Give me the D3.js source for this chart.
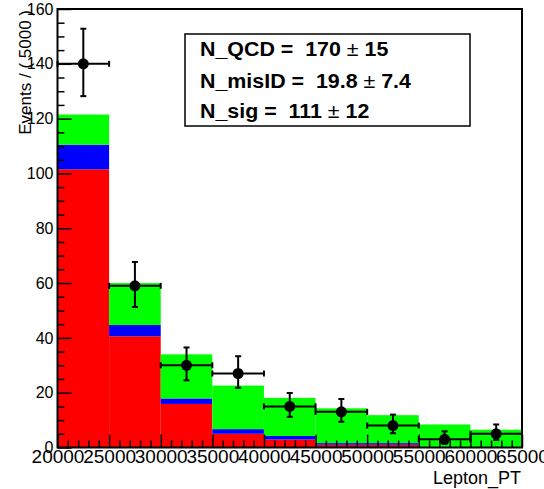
<!DOCTYPE html>
<html>
<head>
<meta charset="utf-8">
<script src="https://cdn.jsdelivr.net/npm/d3@7"></script>
<style>
  html, body { margin: 0; padding: 0; background: #fff; }
  svg { display: block; }
  text { font-family: "Liberation Sans", Arial, Helvetica, sans-serif; fill: #000; }
  .fit { white-space: pre; }
</style>
</head>
<body>
<svg id="chart" width="544" height="489"></svg>
<script>
// Bin lower edges of the Lepton_PT histogram (bin width 5000)
const binEdges = [20000, 25000, 30000, 35000, 40000, 45000, 50000, 55000, 60000, 65000];
// Stacked fit components per bin (bottom to top)
const qcd   = [101.5, 40.6, 15.9, 5.0, 2.9, 1.0, 1.0, 0.0, 0.0];
const misid = [9.0, 4.1, 2.0, 1.7, 1.3, 0.6, 0.6, 0.0, 0.0];
const sig   = [11.0, 15.3, 16.1, 15.9, 13.9, 12.7, 10.2, 8.4, 6.5];
// Observed events with asymmetric Poisson errors
const dataCounts = [140, 59, 30, 27, 15, 13, 8, 3, 5];
const errLow  = [11.8, 7.7, 5.5, 5.2, 3.8, 3.6, 2.8, 1.6, 2.2];
const errHigh = [12.8, 8.7, 6.5, 6.3, 4.9, 4.7, 4.0, 2.9, 3.4];
// Axis ticks
const yMajorTicks = [0, 20, 40, 60, 80, 100, 120, 140, 160];
const xMajorTicks = [20000, 25000, 30000, 35000, 40000, 45000, 50000, 55000, 60000, 65000];
// Fit results box
const fitNames  = ["N_QCD", "N_misID", "N_sig"];
const fitValues = ["170", "19.8", "111"];
const fitErrors = ["15", "7.4", "12"];

const svg = d3.select("#chart");
const x = d3.scaleLinear().domain([20000, 65000]).range([57.5, 522]);
const y = d3.scaleLinear().domain([0, 160]).range([447.5, 9]);

// Stacked histogram
const comps = [
  { vals: qcd, color: "#ff0000" },
  { vals: misid, color: "#0000ff" },
  { vals: sig, color: "#00ff00" }
];
const bins = d3.range(binEdges.length - 1);
const base = bins.map(() => 0);
const gHist = svg.append("g");
comps.forEach(c => {
  bins.forEach(i => {
    const lo = base[i], hi = base[i] + c.vals[i];
    base[i] = hi;
    if (hi - lo <= 0) return;
    gHist.append("rect")
      .attr("x", x(binEdges[i]))
      .attr("width", x(binEdges[i + 1]) - x(binEdges[i]))
      .attr("y", y(hi))
      .attr("height", y(lo) - y(hi))
      .attr("fill", c.color);
  });
});

// Axes with ticks pointing inward
const yMinor = d3.range(0, 161, 5).filter(v => v % 20 !== 0);
const xMinor = d3.range(20000, 65001, 1000).filter(v => v % 5000 !== 0);

const yAxis = d3.axisLeft(y).tickValues(yMajorTicks).tickSizeInner(-14).tickSizeOuter(0).tickPadding(4)
  .tickFormat(d3.format("d"));
const gy = svg.append("g").attr("transform", "translate(57.5,0)").call(yAxis);
gy.select(".domain").remove();
gy.selectAll("text").style("font-size", "16px").style("font-family", "Liberation Sans, Arial, sans-serif");
gy.selectAll("line").attr("stroke-width", 1.5);
const gyMinor = svg.append("g").attr("transform", "translate(57.5,0)")
  .call(d3.axisLeft(y).tickValues(yMinor).tickSizeInner(-7).tickSizeOuter(0).tickFormat(""));
gyMinor.select(".domain").remove();
gyMinor.selectAll("line").attr("stroke-width", 1.5);

const xAxis = d3.axisBottom(x).tickValues(xMajorTicks).tickSizeInner(-13).tickSizeOuter(0).tickPadding(2)
  .tickFormat(d3.format("d"));
const gx = svg.append("g").attr("transform", "translate(0,447.5)").call(xAxis);
gx.select(".domain").remove();
gx.selectAll("text").style("font-size", "19px").style("font-family", "Liberation Sans, Arial, sans-serif");
gx.selectAll("line").attr("stroke-width", 1.5);
const gxMinor = svg.append("g").attr("transform", "translate(0,447.5)")
  .call(d3.axisBottom(x).tickValues(xMinor).tickSizeInner(-7).tickSizeOuter(0).tickFormat(""));
gxMinor.select(".domain").remove();
gxMinor.selectAll("line").attr("stroke-width", 1.5);

// Frame
svg.append("rect")
  .attr("x", x(20000)).attr("y", y(160))
  .attr("width", x(65000) - x(20000)).attr("height", y(0) - y(160))
  .attr("fill", "none").attr("stroke", "#000").attr("stroke-width", 2);

// Data points with error bars
const gData = svg.append("g").attr("stroke", "#000").attr("stroke-width", 2);
const cap = 3;
bins.forEach(i => {
  const xl = x(binEdges[i]), xr = x(binEdges[i + 1]);
  const xc = x((binEdges[i] + binEdges[i + 1]) / 2);
  const yc = y(dataCounts[i]);
  const yt = y(dataCounts[i] + errHigh[i]);
  const yb = y(Math.max(0, dataCounts[i] - errLow[i]));
  gData.append("line").attr("x1", xl).attr("x2", xr).attr("y1", yc).attr("y2", yc);
  gData.append("line").attr("x1", xl).attr("x2", xl).attr("y1", yc - cap).attr("y2", yc + cap);
  gData.append("line").attr("x1", xr).attr("x2", xr).attr("y1", yc - cap).attr("y2", yc + cap);
  gData.append("line").attr("x1", xc).attr("x2", xc).attr("y1", yt).attr("y2", yb);
  gData.append("line").attr("x1", xc - cap).attr("x2", xc + cap).attr("y1", yt).attr("y2", yt);
  gData.append("line").attr("x1", xc - cap).attr("x2", xc + cap).attr("y1", yb).attr("y2", yb);
  gData.append("circle").attr("cx", xc).attr("cy", yc).attr("r", 5.5)
    .attr("fill", "#000").attr("stroke", "none");
});

// Axis titles
svg.append("text")
  .attr("transform", "translate(31,10) rotate(-90)")
  .attr("text-anchor", "end")
  .style("font-size", "17px")
  .text("Events / ( 5000 )");
svg.append("text")
  .attr("x", 521).attr("y", 484)
  .attr("text-anchor", "end")
  .style("font-size", "18px")
  .text("Lepton_PT");

// Fit result box
svg.append("rect")
  .attr("x", 185).attr("y", 34).attr("width", 285).attr("height", 92)
  .attr("fill", "#fff").attr("stroke", "#000").attr("stroke-width", 1.5);
const baselines = [56, 88, 118];
fitNames.forEach((n, i) => {
  const t = svg.append("text")
    .attr("class", "fit")
    .attr("transform", `translate(200,${baselines[i]}) scale(1.07,1)`)
    .style("font-size", "20px").style("font-weight", "bold");
  t.append("tspan").text(n + " =  " + fitValues[i] + " ");
  t.append("tspan").style("font-weight", "normal").text("\u00b1");
  t.append("tspan").text(" " + fitErrors[i]);
});
</script>
</body>
</html>
